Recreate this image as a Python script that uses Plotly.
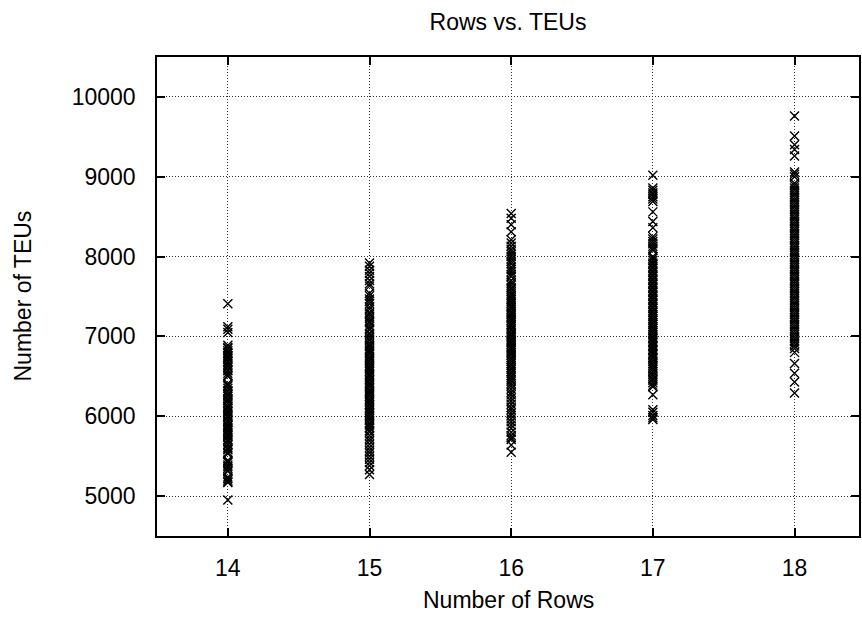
import plotly.graph_objects as go

# Number of TEUs observed for each row count
rows = [14, 15, 16, 17, 18]

teus_14 = [7410, 7120, 7090, 7050, 6890, 6860, 6850, 6820, 6800, 6790, 6760, 6740,
           6720, 6690, 6680, 6650, 6630, 6610, 6580, 6570, 6540, 6510, 6500, 6410,
           6390, 6380, 6350, 6320, 6310, 6280, 6270, 6250, 6220, 6200, 6190, 6160,
           6130, 6120, 6100, 6070, 6060, 6040, 6010, 6000, 5980, 5950, 5940, 5920,
           5890, 5880, 5860, 5830, 5820, 5800, 5770, 5760, 5740, 5710, 5700, 5680,
           5650, 5640, 5610, 5590, 5580, 5550, 5530, 5450, 5430, 5420, 5390, 5370,
           5350, 5320, 5310, 5240, 5220, 5200, 5180, 5170, 4950]

teus_15 = [7920, 7880, 7830, 7790, 7750, 7700, 7660, 7630, 7540, 7510, 7470, 7440,
           7410, 7370, 7340, 7300, 7280, 7250, 7220, 7190, 7170, 7130, 7100, 7080,
           7040, 7020, 6990, 6960, 6950, 6910, 6890, 6870, 6840, 6820, 6800, 6780,
           6750, 6730, 6710, 6690, 6660, 6640, 6620, 6600, 6580, 6560, 6530, 6510,
           6490, 6460, 6450, 6420, 6400, 6380, 6360, 6330, 6310, 6290, 6270, 6250,
           6220, 6200, 6180, 6150, 6140, 6110, 6090, 6070, 6050, 6030, 6010, 5990,
           5970, 5950, 5920, 5910, 5890, 5860, 5850, 5820, 5800, 5760, 5720, 5690,
           5650, 5610, 5570, 5540, 5500, 5460, 5420, 5380, 5330, 5270]

teus_16 = [8540, 8480, 8400, 8310, 8210, 8170, 8130, 8090, 8060, 8030, 8000, 7970,
           7940, 7910, 7870, 7840, 7810, 7780, 7750, 7700, 7670, 7640, 7610, 7590,
           7560, 7530, 7510, 7480, 7460, 7430, 7410, 7380, 7360, 7340, 7310, 7290,
           7270, 7240, 7220, 7200, 7170, 7150, 7130, 7100, 7080, 7050, 7030, 7010,
           6990, 6960, 6940, 6920, 6900, 6870, 6850, 6830, 6800, 6780, 6760, 6730,
           6710, 6690, 6660, 6640, 6610, 6590, 6560, 6540, 6510, 6490, 6460, 6440,
           6410, 6380, 6340, 6300, 6270, 6230, 6190, 6150, 6110, 6080, 6040, 6010,
           5970, 5930, 5890, 5850, 5800, 5760, 5730, 5710, 5640, 5550]

teus_17 = [9020, 8860, 8830, 8800, 8780, 8750, 8720, 8690, 8560, 8440, 8360, 8250,
           8220, 8190, 8160, 8130, 8100, 8080, 8000, 7980, 7950, 7920, 7900, 7870,
           7850, 7820, 7800, 7770, 7750, 7720, 7700, 7670, 7650, 7620, 7600, 7570,
           7550, 7520, 7500, 7470, 7450, 7420, 7400, 7370, 7350, 7320, 7300, 7270,
           7250, 7220, 7200, 7170, 7150, 7120, 7100, 7070, 7050, 7020, 6990, 6970,
           6940, 6920, 6890, 6870, 6840, 6820, 6790, 6770, 6740, 6720, 6690, 6660,
           6640, 6610, 6590, 6560, 6530, 6500, 6470, 6450, 6420, 6390, 6370, 6270,
           6080, 6050, 6010, 5980, 5960]

teus_18 = [9760, 9510, 9400, 9340, 9260, 9060, 9030, 9000, 8920, 8890, 8860, 8830,
           8800, 8770, 8740, 8710, 8680, 8650, 8620, 8590, 8560, 8530, 8500, 8470,
           8440, 8410, 8380, 8350, 8320, 8290, 8260, 8230, 8200, 8170, 8140, 8110,
           8080, 8050, 8020, 7990, 7960, 7930, 7900, 7870, 7840, 7810, 7780, 7750,
           7720, 7690, 7660, 7630, 7600, 7570, 7540, 7510, 7480, 7450, 7420, 7390,
           7360, 7330, 7300, 7270, 7240, 7210, 7180, 7150, 7120, 7090, 7060, 7030,
           7000, 6970, 6940, 6910, 6880, 6850, 6800, 6660, 6540, 6430, 6290]

y_ticks = [5000, 6000, 7000, 8000, 9000, 10000]
y_tick_labels = ["5000", "6000", "7000", "8000", "9000", "10000"]

series = [teus_14, teus_15, teus_16, teus_17, teus_18]

xs, ys = [], []
for r, vals in zip(rows, series):
    xs.extend([r] * len(vals))
    ys.extend(vals)

FONT = "Liberation Sans, Arial, Helvetica, sans-serif"
FSIZE = 23

fig = go.Figure()
fig.add_trace(go.Scatter(
    x=xs, y=ys, mode="markers",
    marker=dict(symbol="x-thin-open", size=9,
                color="black", line=dict(color="black", width=1.4)),
    showlegend=False, hoverinfo="x+y",
))

axis_common = dict(
    showline=True, linecolor="black", linewidth=1.5, mirror="ticks",
    ticks="inside", ticklen=8, tickwidth=1.5, tickcolor="black",
    showgrid=True, gridcolor="#333333", gridwidth=1, griddash="1px,2px",
    zeroline=False, tickfont=dict(family=FONT, size=FSIZE, color="black"),
)

fig.update_xaxes(range=[13.5, 18.455], tickvals=rows, ticklabelstandoff=11,
                 **axis_common)
fig.update_yaxes(range=[4500, 10500], tickvals=y_ticks, ticktext=y_tick_labels,
                 ticklabelstandoff=15, **axis_common)

fig.update_layout(
    width=862, height=618,
    margin=dict(l=157, r=3, t=57, b=82, autoexpand=False),
    paper_bgcolor="white", plot_bgcolor="white",
    font=dict(family=FONT, size=FSIZE, color="black"),
    title=dict(text="Rows vs. TEUs", x=508 / 862, xanchor="center",
               y=1 - 22 / 618, yanchor="middle",
               font=dict(family=FONT, size=FSIZE, color="black")),
    annotations=[
        dict(text="Number of Rows", xref="paper", yref="paper",
             x=0.5, y=0, yshift=-64, xanchor="center", yanchor="middle",
             showarrow=False, font=dict(family=FONT, size=FSIZE, color="black")),
        dict(text="Number of TEUs", xref="paper", yref="paper",
             x=0, y=0.5, xshift=-135, xanchor="center", yanchor="middle",
             textangle=-90, showarrow=False,
             font=dict(family=FONT, size=FSIZE, color="black")),
    ],
)

fig.write_html("out.html")
